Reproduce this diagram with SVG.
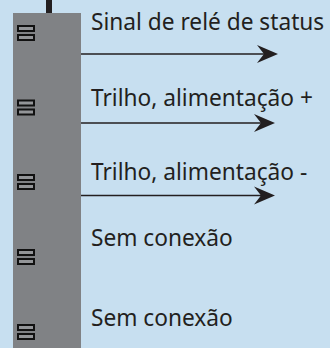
<svg xmlns="http://www.w3.org/2000/svg" width="330" height="348" viewBox="0 0 330 348">
<style>
.t{font-family:"Noto Sans","Liberation Sans",sans-serif;font-size:22.700px;fill:#231f20}
.p{fill:#939598;stroke:#111;stroke-width:2}
.l{stroke:#231f20;stroke-width:1.500;fill:none}
.h{fill:#231f20}
</style>
<defs><g id="pin"><rect class="p" x="18" y="0" width="16" height="5"/><rect class="p" x="18" y="9" width="16" height="5"/></g></defs>
<rect width="330" height="348" fill="#c7dff0"/>
<g id="stem"><rect x="46" y="0" width="6" height="13" fill="#231f20"/></g>
<g id="bar"><rect x="13" y="13" width="68" height="335" fill="#808285"/>
<use href="#pin" y="26"/><use href="#pin" y="100.500"/><use href="#pin" y="175"/><use href="#pin" y="250"/><use href="#pin" y="325"/></g>
<g id="connectors">
<path class="l" d="M81 54H266"/><path class="h" d="M257 45L278 54L257 63L264 54Z"/>
<path class="l" d="M81 123H262"/><path class="h" d="M254 114L275 123L254 132L261 123Z"/>
<path class="l" d="M81 195.500H262"/><path class="h" d="M254 186.500L275 195.500L254 204.500L261 195.500Z"/>
</g>
<g id="n1"><text class="t" x="91" y="30">Sinal de relé de status</text></g>
<g id="n2"><text class="t" x="91" y="106">Trilho, alimentação +</text></g>
<g id="n3"><text class="t" x="91" y="180">Trilho, alimentação -</text></g>
<g id="n4"><text class="t" x="91" y="246">Sem conexão</text></g>
<g id="n5"><text class="t" x="91" y="326">Sem conexão</text></g>
</svg>
